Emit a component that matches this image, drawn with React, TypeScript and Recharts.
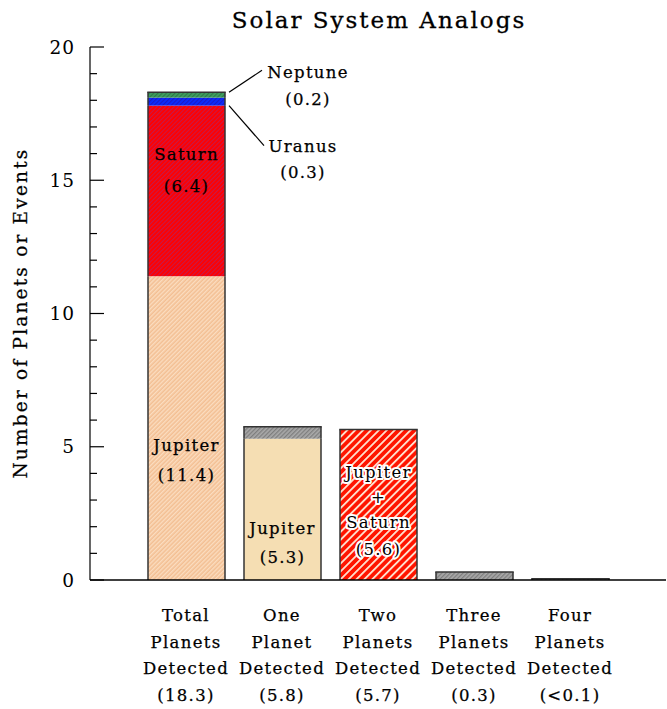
import React from "react";
import { Bar, BarChart, Cell, LabelList, XAxis, YAxis } from "recharts";

const categories = ["Total", "One", "Two", "Three", "Four"];
const categoryLines = [
  ["Total", "Planets", "Detected", "(18.3)"],
  ["One", "Planet", "Detected", "(5.8)"],
  ["Two", "Planets", "Detected", "(5.7)"],
  ["Three", "Planets", "Detected", "(0.3)"],
  ["Four", "Planets", "Detected", "(<0.1)"],
];

const jupiter = [11.4, 5.3, 0, 0, 0];
const jupiterSaturn = [0, 0, 5.65, 0, 0];
const saturn = [6.4, 0, 0, 0, 0];
const uranus = [0.3, 0, 0, 0, 0];
const neptune = [0.2, 0, 0, 0, 0];
const other = [0, 0.45, 0, 0.3, 0.05];

const yTicks = [0, 1, 2, 3, 4, 5, 6, 7, 8, 9, 10, 11, 12, 13, 14, 15, 16, 17, 18, 19, 20];

const stackOrder = ["jupiter", "jupiterSaturn", "saturn", "uranus", "neptune", "other"];

const data = categories.map((name, i) => ({
  name,
  jupiter: jupiter[i],
  jupiterSaturn: jupiterSaturn[i],
  saturn: saturn[i],
  uranus: uranus[i],
  neptune: neptune[i],
  other: other[i],
}));

const FONT = "'DejaVu Serif', serif";
const OUTLINE = "#333";

function topKey(row: any) {
  let top = "";
  for (const k of stackOrder) if (row[k] > 0) top = k;
  return top;
}

const segment = (key: string) => (props: any) => {
  const { x, y, width, height, fill, payload } = props;
  if (!height || height <= 0) return <g />;
  const isTop = topKey(payload) === key;
  return (
    <g>
      <rect x={x} y={y} width={width} height={height} fill={fill} />
      <line x1={x} x2={x} y1={y} y2={y + height} stroke={OUTLINE} strokeWidth={1.5} />
      <line x1={x + width} x2={x + width} y1={y} y2={y + height} stroke={OUTLINE} strokeWidth={1.5} />
      {isTop && <line x1={x - 0.75} x2={x + width + 0.75} y1={y} y2={y} stroke={OUTLINE} strokeWidth={1.5} />}
    </g>
  );
};

function LeftTick(props: any) {
  const { x, y, payload } = props;
  const major = payload.value % 5 === 0;
  return (
    <g>
      <line x1={x} x2={x + (major ? 14 : 7)} y1={y} y2={y} stroke="#000" strokeWidth={1.2} />
      {major && (
        <text x={x - 15} y={y} dy="0.36em" textAnchor="end" fontFamily={FONT} fontSize={18.5} letterSpacing={1} fill="#000">
          {payload.value}
        </text>
      )}
    </g>
  );
}

function RightTick(props: any) {
  const { x, y, payload } = props;
  const major = payload.value % 5 === 0;
  return <line x1={x + 1 - (major ? 14 : 7)} x2={x + 1} y1={y} y2={y} stroke="#000" strokeWidth={1.2} />;
}

function BottomTick(props: any) {
  const { x, y, index } = props;
  const lines = categoryLines[index] || [];
  return (
    <text textAnchor="middle" fontFamily={FONT} fontSize={16.5} letterSpacing={1.3} fill="#000" stroke="#000" strokeWidth={0.25}>
      {lines.map((l, i) => (
        <tspan key={i} x={x} y={y + 41 + i * 26.7}>
          {l}
        </tspan>
      ))}
    </text>
  );
}

function stackedText(cx: number, ys: number[], lines: string[], halo = false) {
  return (
    <text
      textAnchor="middle"
      fontFamily={FONT}
      fontSize={16.5}
      letterSpacing={1.3}
      fill="#000"
      stroke={halo ? "#fff" : "#000"}
      strokeWidth={halo ? 4 : 0.25}
      paintOrder="stroke"
      strokeLinejoin="round"
    >
      {lines.map((l, i) => (
        <tspan key={i} x={cx} y={ys[i]}>
          {l}
        </tspan>
      ))}
    </text>
  );
}

const jupiterLabel = (p: any) => {
  const { x, y, width, index, value } = p;
  if (!value) return null;
  const cx = x + width / 2;
  if (index === 0) return stackedText(cx, [y + 175, y + 205], ["Jupiter", `(${value})`]);
  if (index === 1) return stackedText(cx, [y + 95, y + 124], ["Jupiter", `(${value})`]);
  return null;
};

const saturnLabel = (p: any) => {
  const { x, y, width, value } = p;
  if (!value) return null;
  return stackedText(x + width / 2, [y + 54, y + 86], ["Saturn", `(${value})`]);
};

const jsLabel = (p: any) => {
  const { x, y, width, value } = p;
  if (!value) return null;
  return stackedText(x + width / 2, [y + 49, y + 74, y + 99, y + 126], ["Jupiter", "+", "Saturn", "(5.6)"], true);
};

const uranusLabel = (p: any) => {
  const { x, y, width, height, value } = p;
  if (!value) return null;
  const rx = x + width;
  return (
    <g>
      <line x1={rx + 4} y1={y + height} x2={rx + 39} y2={y + height + 40} stroke="#000" strokeWidth={1.2} />
      {stackedText(rx + 78, [y + height + 46, y + height + 72], ["Uranus", `(${value})`])}
    </g>
  );
};

const neptuneLabel = (p: any) => {
  const { x, y, width, value } = p;
  if (!value) return null;
  const rx = x + width;
  return (
    <g>
      <line x1={rx + 4} y1={y} x2={rx + 37} y2={y - 22} stroke="#000" strokeWidth={1.2} />
      {stackedText(rx + 83, [y - 14, y + 13], ["Neptune", `(${value})`])}
    </g>
  );
};

function hatch(id: string, bg: string, fg: string, size: number, stripe: number) {
  return (
    <pattern id={id} patternUnits="userSpaceOnUse" width={size} height={size} patternTransform="rotate(45)">
      <rect width={size} height={size} fill={bg} />
      <rect width={stripe} height={size} fill={fg} />
    </pattern>
  );
}

export default function App() {
  return (
    <div style={{ position: "absolute", left: 0, top: 0, width: 667, height: 709, background: "#fff" }}>
      <BarChart width={667} height={709} data={data} margin={{ top: 47, right: 0, bottom: 0, left: 0 }} barSize={77}>
        <defs>
          {hatch("peach", "#F3BF93", "#FBDDC0", 3, 1.4)}
          {hatch("satHatch", "#FF0000", "#C81848", 3, 1.1)}
          {hatch("jsHatch", "#FF1500", "#FFE4D2", 5.6, 1.8)}
          {hatch("greyHatch", "#A9A9A9", "#7E7E7E", 3, 1.3)}
          {hatch("greenHatch", "#3F9F5F", "#2E7A48", 3, 1.2)}
          {hatch("blueHatch", "#0A2CFF", "#1A1AC8", 3, 1.2)}
        </defs>
        <text x={379} y={28} textAnchor="middle" fontFamily={FONT} fontSize={23} letterSpacing={2} fill="#000" stroke="#000" strokeWidth={0.3}>
          Solar System Analogs
        </text>
        <text
          x={20}
          y={313}
          transform="rotate(-90 20 313)"
          textAnchor="middle"
          dominantBaseline="central"
          fontFamily={FONT}
          fontSize={18.5}
          letterSpacing={2.2}
          fill="#000"
          stroke="#000"
          strokeWidth={0.25}
        >
          Number of Planets or Events
        </text>
        <XAxis
          dataKey="name"
          height={129}
          padding={{ left: 48, right: 48 }}
          axisLine={{ stroke: "#000", strokeWidth: 1.5 }}
          tickLine={false}
          tickSize={0}
          tickMargin={0}
          interval={0}
          tick={<BottomTick />}
        />
        <YAxis
          yAxisId="left"
          width={90}
          domain={[0, 20]}
          ticks={yTicks}
          interval={0}
          axisLine={{ stroke: "#000", strokeWidth: 1.2 }}
          tickLine={false}
          tickSize={0}
          tickMargin={0}
          tick={<LeftTick />}
        />
        <YAxis
          yAxisId="right"
          orientation="right"
          width={1}
          domain={[0, 20]}
          ticks={yTicks}
          interval={0}
          axisLine={false}
          tickLine={false}
          tickSize={0}
          tickMargin={0}
          tick={<RightTick />}
        />
        <Bar dataKey="jupiter" stackId="a" yAxisId="left" isAnimationActive={false} shape={segment("jupiter")}>
          {data.map((d, i) => (
            <Cell key={i} fill={i === 0 ? "url(#peach)" : "#F5DEB3"} />
          ))}
          <LabelList dataKey="jupiter" content={jupiterLabel} />
        </Bar>
        <Bar dataKey="jupiterSaturn" stackId="a" yAxisId="left" fill="url(#jsHatch)" isAnimationActive={false} shape={segment("jupiterSaturn")}>
          <LabelList dataKey="jupiterSaturn" content={jsLabel} />
        </Bar>
        <Bar dataKey="saturn" stackId="a" yAxisId="left" fill="url(#satHatch)" isAnimationActive={false} shape={segment("saturn")}>
          <LabelList dataKey="saturn" content={saturnLabel} />
        </Bar>
        <Bar dataKey="uranus" stackId="a" yAxisId="left" fill="url(#blueHatch)" isAnimationActive={false} shape={segment("uranus")}>
          <LabelList dataKey="uranus" content={uranusLabel} />
        </Bar>
        <Bar dataKey="neptune" stackId="a" yAxisId="left" fill="url(#greenHatch)" isAnimationActive={false} shape={segment("neptune")}>
          <LabelList dataKey="neptune" content={neptuneLabel} />
        </Bar>
        <Bar dataKey="other" stackId="a" yAxisId="left" fill="url(#greyHatch)" isAnimationActive={false} shape={segment("other")} />
      </BarChart>
    </div>
  );
}
